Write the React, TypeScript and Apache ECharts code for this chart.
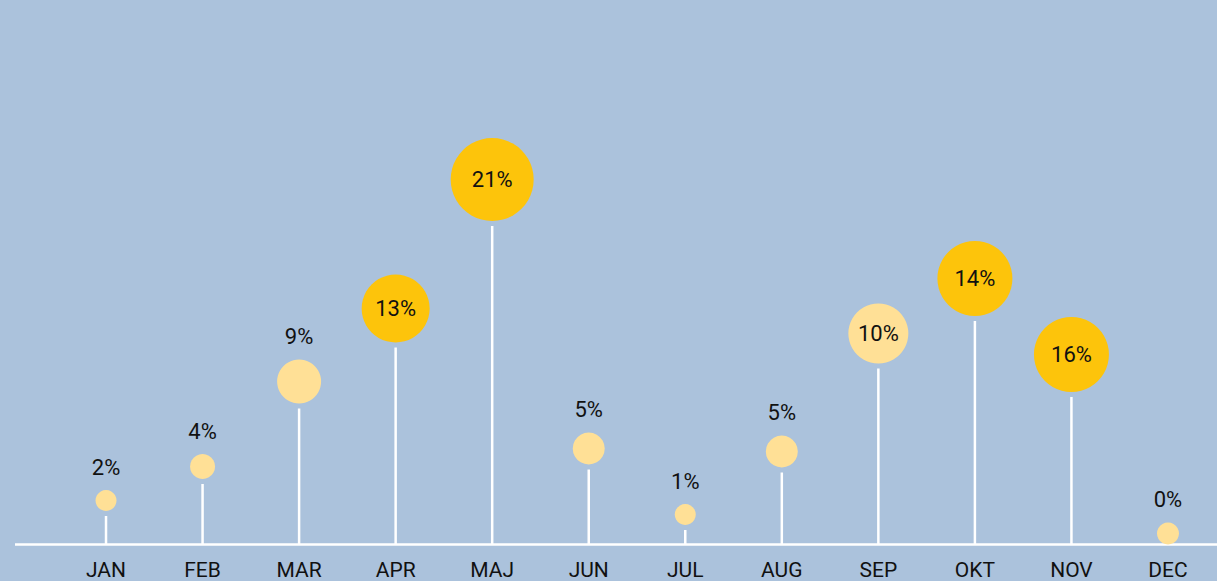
import React, { useEffect, useRef } from "react";
import * as echarts from "echarts";

const months = ["JAN", "FEB", "MAR", "APR", "MAJ", "JUN", "JUL", "AUG", "SEP", "OKT", "NOV", "DEC"];
const percentLabels = ["2%", "4%", "9%", "13%", "21%", "5%", "1%", "5%", "10%", "14%", "16%", "0%"];
// vertical position of each bubble centre (axis units)
const positions = [44, 78, 163, 236, 365, 96, 30, 93, 211, 266, 190, 11];
// bubble diameters
const bubbleSizes = [21, 25, 44, 68, 83, 32, 21, 32, 60, 75, 75, 22];
// highlighted months (dark yellow)
const highlighted = [false, false, false, true, true, false, false, false, false, true, true, false];
// label inside the bubble?
const labelInside = [false, false, false, true, true, false, false, false, true, true, true, false];

const BG = "#ABC2DC";
const LIGHT = "#FFE096";
const DARK = "#FDC40B";
const TEXT = "#111111";
const FONT = "Roboto";

export default function App() {
  const ref = useRef<HTMLDivElement>(null);

  useEffect(() => {
    if (!ref.current) return;
    const chart = echarts.init(ref.current, null, { renderer: "svg" });
    const gap = 5;

    const scatterData = positions.map((v, i) => ({
      value: [i, v],
      symbolSize: bubbleSizes[i],
      itemStyle: { color: highlighted[i] ? DARK : LIGHT, opacity: 1 },
      label: {
        show: true,
        formatter: percentLabels[i],
        position: labelInside[i] ? "inside" : "top",
        distance: 12,
        fontSize: 22,
        color: TEXT,
        fontFamily: FONT,
      },
    }));

    chart.setOption({
      animation: false,
      backgroundColor: BG,
      grid: { left: 57.75, right: 0.75, top: 44.5, bottom: 36.5 },
      xAxis: {
        type: "category",
        data: months,
        boundaryGap: true,
        axisLine: { show: false },
        axisTick: { show: false },
        splitLine: { show: false },
        axisLabel: { fontSize: 21, color: TEXT, fontFamily: FONT, margin: 15 },
      },
      yAxis: {
        type: "value",
        min: 0,
        max: 500,
        show: false,
        splitLine: { show: false },
      },
      graphic: [
        {
          type: "line",
          shape: { x1: 15, y1: 544.5, x2: 1217, y2: 544.5 },
          style: { stroke: "#ffffff", lineWidth: 2.5 },
          z: 1,
        },
      ],
      series: [
        {
          type: "custom",
          z: 2,
          data: positions.map((v, i) => [i, v]),
          renderItem: (params: any, api: any) => {
            const idx = params.dataIndex;
            const top = api.coord([api.value(0), api.value(1)]);
            const base = api.coord([api.value(0), 0]);
            const y1 = top[1] + bubbleSizes[idx] / 2 + gap;
            if (y1 >= base[1]) return null;
            return {
              type: "line",
              shape: { x1: top[0], y1, x2: top[0], y2: base[1] },
              style: { stroke: "#ffffff", lineWidth: 2.5 },
            };
          },
        },
        {
          type: "scatter",
          z: 3,
          data: scatterData,
          emphasis: { disabled: true },
        },
      ],
    });

    return () => chart.dispose();
  }, []);

  return (
    <div
      ref={ref}
      style={{ position: "fixed", left: 0, top: 0, width: 1217, height: 581 }}
    />
  );
}
